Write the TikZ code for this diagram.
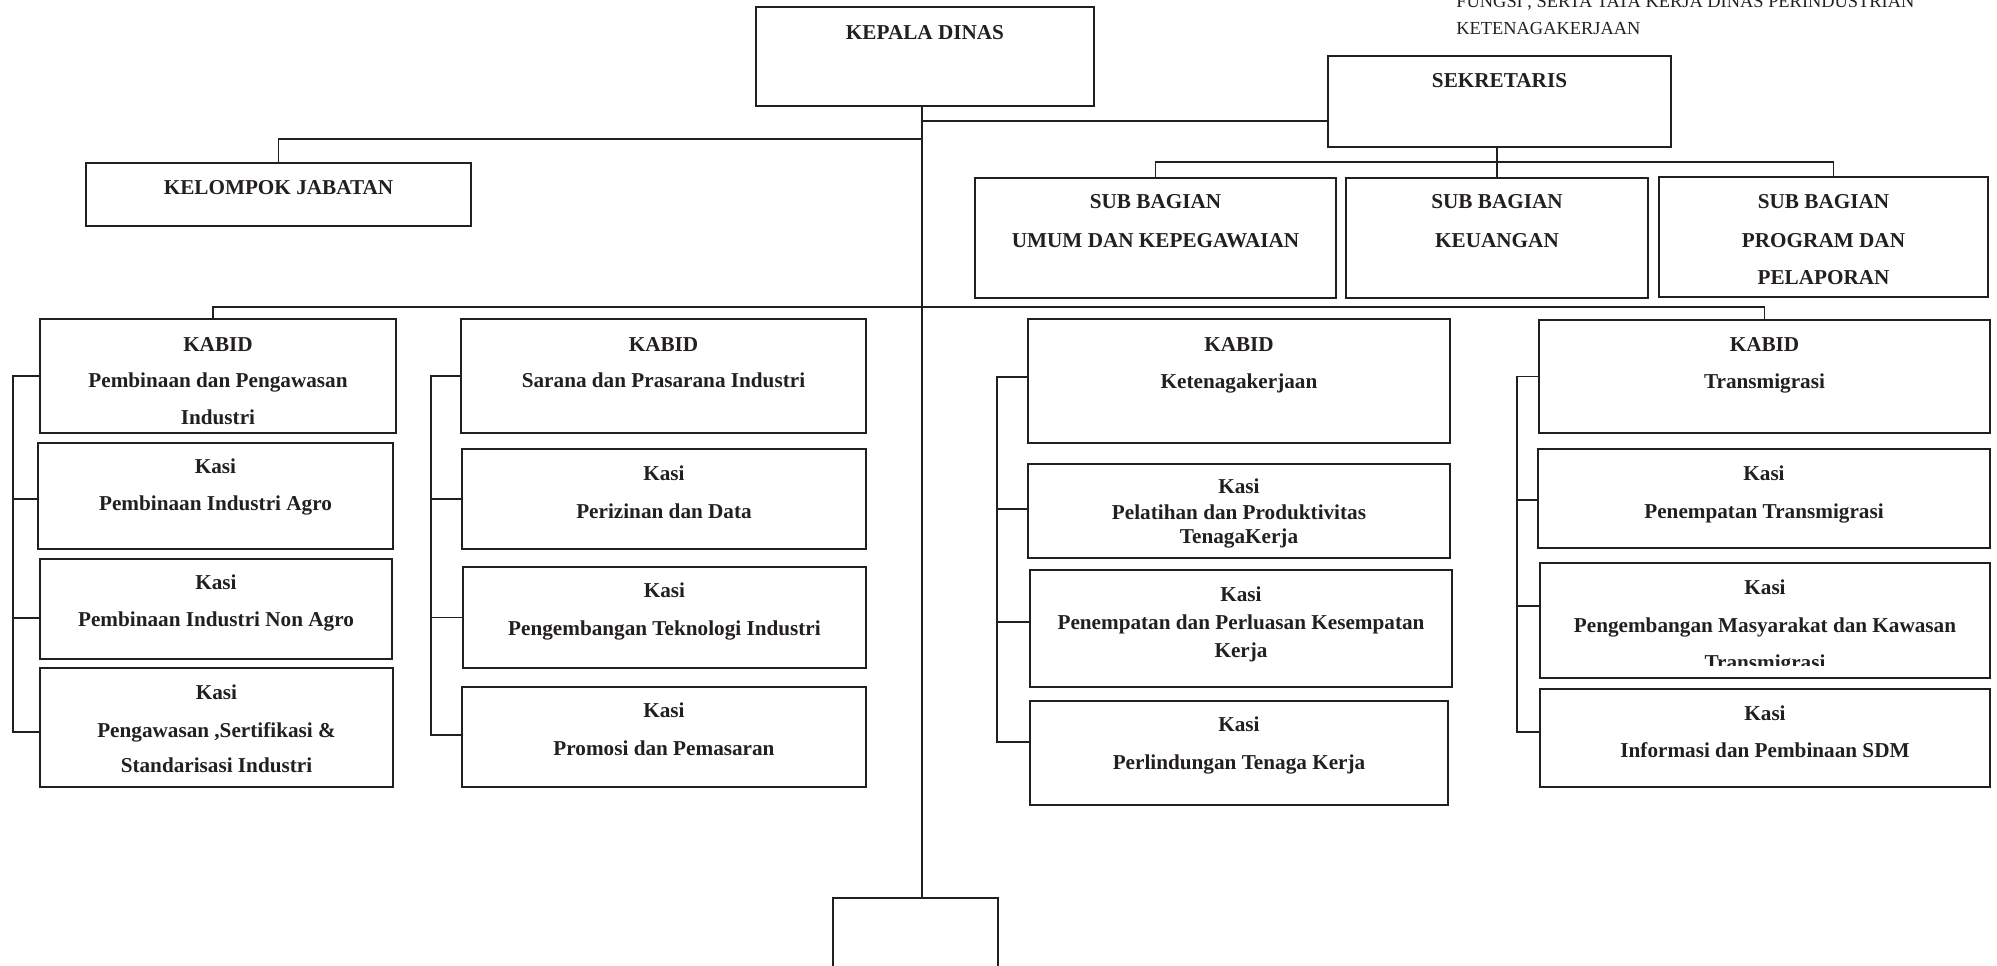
\documentclass[tikz,border=0pt]{standalone}
\usepackage{fontspec}
\setmainfont{Liberation Serif}
\definecolor{ink}{HTML}{231F20}
\newcommand\orgbox[5]{\node[obox, minimum width={(#4-#2)*0.5pt}, minimum height={(#5-#3)*0.5pt}] (#1) at ({(#2+#4)/2},{(#3+#5)/2}) {};}
\newcommand\tline[4]{\node[txt] (#1) at (#2 |- 0,#3) {#4};}
\begin{document}
\begin{tikzpicture}[x=0.5pt,y=-0.5pt,
  obox/.style={draw=ink, line width=1.1pt, inner sep=0pt, outer sep=0pt, rectangle},
  conn/.style={draw=ink, line width=0.85pt},
  txt/.style={anchor=base, inner sep=0pt, text=ink, font=\bfseries\fontsize{10.6}{12}\selectfont},
  note/.style={anchor=base west, inner sep=0pt, text=ink, font=\fontsize{9.2}{11}\selectfont}]
\useasboundingbox (0,0) rectangle (1997,965);

% header note
\node[note] (n1) at (1456,7) {FUNGSI , SERTA TATA KERJA DINAS PERINDUSTRIAN};
\node[note] (n2) at (1456,34) {KETENAGAKERJAAN};

% top level
\orgbox{kadis}{756}{7}{1094}{106}
\tline{kadisa}{kadis.center}{39}{KEPALA DINAS}
\orgbox{kj}{86}{163}{471}{226}
\tline{kja}{kj.center}{194}{KELOMPOK JABATAN}
\orgbox{sek}{1328}{56}{1671}{147}
\tline{seka}{sek.center}{87}{SEKRETARIS}

% sub bagian
\orgbox{umum}{975}{178}{1336}{298}
\tline{umuma}{umum.center}{208}{SUB BAGIAN}
\tline{umumb}{umum.center}{247}{UMUM DAN KEPEGAWAIAN}
\orgbox{keu}{1346}{178}{1648}{298}
\tline{keua}{keu.center}{208}{SUB BAGIAN}
\tline{keub}{keu.center}{247}{KEUANGAN}
\orgbox{prog}{1659}{177}{1988}{297}
\tline{proga}{prog.center}{208}{SUB BAGIAN}
\tline{progb}{prog.center}{247}{PROGRAM DAN}
\tline{progc}{prog.center}{284}{PELAPORAN}

% column 1
\orgbox{kb1}{40}{319}{396}{433}
\tline{kb1a}{kb1.center}{351}{KABID}
\tline{kb1b}{kb1.center}{387}{Pembinaan dan Pengawasan}
\tline{kb1c}{kb1.center}{424}{Industri}
\orgbox{k11}{38}{443}{393}{549}
\tline{k11a}{k11.center}{473}{Kasi}
\tline{k11b}{k11.center}{510}{Pembinaan Industri Agro}
\orgbox{k12}{40}{559}{392}{659}
\tline{k12a}{k12.center}{589}{Kasi}
\tline{k12b}{k12.center}{626}{Pembinaan Industri Non Agro}
\orgbox{k13}{40}{668}{393}{787}
\tline{k13a}{k13.center}{699}{Kasi}
\tline{k13b}{k13.center}{737}{Pengawasan ,Sertifikasi \&}
\tline{k13c}{k13.center}{772}{Standarisasi Industri}

% column 2
\orgbox{kb2}{461}{319}{866}{433}
\tline{kb2a}{kb2.center}{351}{KABID}
\tline{kb2b}{kb2.center}{387}{Sarana dan Prasarana Industri}
\orgbox{k21}{462}{449}{866}{549}
\tline{k21a}{k21.center}{480}{Kasi}
\tline{k21b}{k21.center}{518}{Perizinan dan Data}
\orgbox{k22}{463}{567}{866}{668}
\tline{k22a}{k22.center}{597}{Kasi}
\tline{k22b}{k22.center}{635}{Pengembangan Teknologi Industri}
\orgbox{k23}{462}{687}{866}{787}
\tline{k23a}{k23.center}{717}{Kasi}
\tline{k23b}{k23.center}{755}{Promosi dan Pemasaran}

% column 3
\orgbox{kb3}{1028}{319}{1450}{443}
\tline{kb3a}{kb3.center}{351}{KABID}
\tline{kb3b}{kb3.center}{388}{Ketenagakerjaan}
\orgbox{k31}{1028}{464}{1450}{558}
\tline{k31a}{k31.center}{493}{Kasi}
\tline{k31b}{k31.center}{519}{Pelatihan dan Produktivitas}
\tline{k31c}{k31.center}{543}{TenagaKerja}
\orgbox{k32}{1030}{570}{1452}{687}
\tline{k32a}{k32.center}{601}{Kasi}
\tline{k32b}{k32.center}{629}{Penempatan dan Perluasan Kesempatan}
\tline{k32c}{k32.center}{657}{Kerja}
\orgbox{k33}{1030}{701}{1448}{805}
\tline{k33a}{k33.center}{731}{Kasi}
\tline{k33b}{k33.center}{769}{Perlindungan Tenaga Kerja}

% column 4
\orgbox{kb4}{1539}{320}{1990}{433}
\tline{kb4a}{kb4.center}{351}{KABID}
\tline{kb4b}{kb4.center}{388}{Transmigrasi}
\orgbox{k41}{1538}{449}{1990}{548}
\tline{k41a}{k41.center}{480}{Kasi}
\tline{k41b}{k41.center}{518}{Penempatan Transmigrasi}
\orgbox{k42}{1540}{563}{1990}{678}
\tline{k42a}{k42.center}{594}{Kasi}
\tline{k42b}{k42.center}{632}{Pengembangan Masyarakat dan Kawasan}
\begin{scope}
  \clip (1540,563) rectangle (1990,665);
  \tline{k42c}{k42.center}{669}{Transmigrasi}
\end{scope}
\orgbox{k43}{1540}{689}{1990}{787}
\tline{k43a}{k43.center}{720}{Kasi}
\tline{k43b}{k43.center}{757}{Informasi dan Pembinaan SDM}

% bottom box (cut off by the page edge)
\orgbox{bot}{833}{898}{998}{1010}

% main connectors
\coordinate (spine) at ([xshift=-1.5pt]kadis.south);
\draw[conn] (spine) -- (spine |- bot.north);
\draw[conn] (kj.north) |- (spine |- 0,139);
\draw[conn] (spine |- 0,121) -- (sek.west |- 0,121);
\draw[conn] (sek.south -| keu.north) -- (keu.north);
\draw[conn] (umum.north) -- ++(0,8pt) -| ([xshift=5pt]prog.north);
\draw[conn] ([xshift=-2.5pt]kb1.north) -- ++(0,6pt) -| (kb4.north);

% column brackets
\draw[conn] (kb1.west) -- ++(-13.5pt,0) |- ([yshift=-2.25pt]k13.west);
\draw[conn] ([yshift=-1.5pt]k11.west) -- ++(-12.5pt,0);
\draw[conn] ([yshift=-4.5pt]k12.west) -- ++(-13.5pt,0);

\draw[conn] (kb2.west) -- ++(-15pt,0) |- ([yshift=1pt]k23.west);
\draw[conn] (k21.west) -- ++(-15.5pt,0);
\draw[conn] (k22.west) -- ++(-16pt,0);

\draw[conn] ([yshift=2pt]kb3.west) -- ++(-15.5pt,0) |- ([yshift=5.5pt]k33.west);
\draw[conn] ([yshift=1pt]k31.west) -- ++(-15.5pt,0);
\draw[conn] ([yshift=3.25pt]k32.west) -- ++(-16.5pt,0);

\draw[conn] (kb4.west) -- ++(-11pt,0) |- ([yshift=3pt]k43.west);
\draw[conn] ([yshift=-0.75pt]k41.west) -- ++(-10.5pt,0);
\draw[conn] ([yshift=7.25pt]k42.west) -- ++(-11.5pt,0);
\end{tikzpicture}
\end{document}
